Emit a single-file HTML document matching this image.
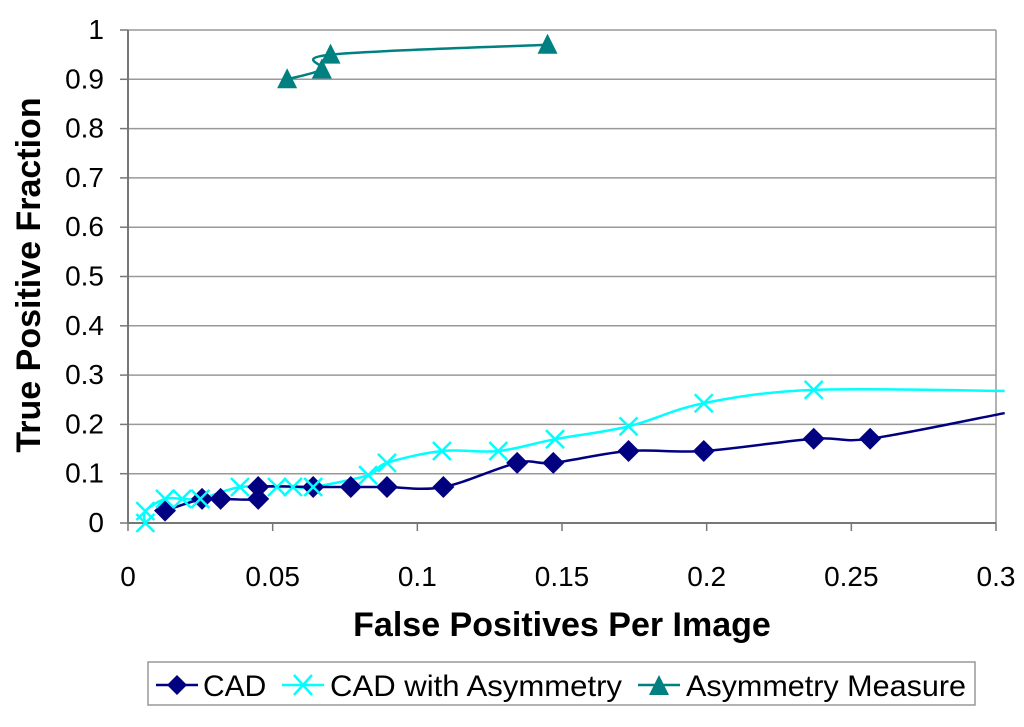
<!DOCTYPE html>
<html><head><meta charset="utf-8"><style>
body{margin:0;background:#fff;}
svg text{font-family:"Liberation Sans",Arial,sans-serif;}
</style></head><body>
<svg id="chart" width="1024" height="722" viewBox="0 0 1024 722" xmlns="http://www.w3.org/2000/svg">
<g id="grid"></g>
<g id="axes"></g>
<defs><clipPath id="clip"><rect x="120" y="0" width="885" height="540"/></clipPath></defs>
<g id="series" clip-path="url(#clip)"></g>
<text x="40" y="275" transform="rotate(-90 40 275)" text-anchor="middle" font-size="34" font-weight="bold">True Positive Fraction</text>
<text x="562" y="636" text-anchor="middle" font-size="34" font-weight="bold">False Positives Per Image</text>
<g>
<rect x="148" y="662" width="827" height="43" fill="#fff" stroke="#999" stroke-width="1.5"/>
<g>
<line x1="156" y1="685" x2="198" y2="685" stroke="#000080" stroke-width="2.5"/>
<path d="M177 675 L187 685 L177 695 L167 685Z" fill="#000080"/>
<text x="203" y="696" font-size="30">CAD</text></g>
<g>
<line x1="282" y1="685" x2="324" y2="685" stroke="#00FFFF" stroke-width="2.5"/>
<path d="M294 675 L312 695 M312 675 L294 695" stroke="#00FFFF" stroke-width="2.5"/>
<text x="330" y="696" font-size="30" textLength="292" lengthAdjust="spacingAndGlyphs">CAD with Asymmetry</text></g>
<g>
<line x1="638" y1="685" x2="680" y2="685" stroke="#008080" stroke-width="2.5"/>
<path d="M659 675 L669 695 L649 695Z" fill="#008080"/>
<text x="686" y="696" font-size="30" textLength="280" lengthAdjust="spacingAndGlyphs">Asymmetry Measure</text></g>
</g>
</svg>
<script>
const xTicks=[0,0.05,0.1,0.15,0.2,0.25,0.3];
const xTickLabels=["0","0.05","0.1","0.15","0.2","0.25","0.3"];
const yTicks=[0,0.1,0.2,0.3,0.4,0.5,0.6,0.7,0.8,0.9,1];
const yTickLabels=["0","0.1","0.2","0.3","0.4","0.5","0.6","0.7","0.8","0.9","1"];
const cadX=[0.0128,0.0256,0.032,0.045,0.045,0.064,0.077,0.0895,0.109,0.1345,0.147,0.173,0.199,0.237,0.2565,0.303];
const cadY=[0.025,0.049,0.049,0.049,0.073,0.073,0.073,0.073,0.073,0.122,0.122,0.146,0.146,0.171,0.171,0.223];
const asymCadX=[0.006,0.006,0.0128,0.0187,0.025,0.0387,0.0515,0.057,0.064,0.083,0.0895,0.1085,0.128,0.1476,0.173,0.199,0.237,0.303];
const asymCadY=[0,0.024,0.049,0.049,0.049,0.073,0.073,0.073,0.073,0.097,0.122,0.146,0.146,0.17,0.196,0.243,0.27,0.268];
const asymX=[0.055,0.067,0.07,0.145];
const asymY=[0.90,0.92,0.95,0.97];
const X0=128,X1=996,Y0=523,Y1=30;
function sx(v){return X0+(X1-X0)*v/0.3;}
function sy(v){return Y0-(Y0-Y1)*v;}
const NS="http://www.w3.org/2000/svg";
function mk(t,a,p){const e=document.createElementNS(NS,t);for(const k in a)e.setAttribute(k,a[k]);p.appendChild(e);return e;}
const grid=document.getElementById('grid'),axes=document.getElementById('axes'),ser=document.getElementById('series');
yTicks.forEach((v,i)=>{
 if(i>0){const l=mk('line',{x1:X0,x2:X1,y1:sy(v),y2:sy(v),stroke:'#999','stroke-width':1.5},grid);
 
 }
 const t=mk('text',{x:104,y:sy(v)+9,'text-anchor':'end','font-size':28},axes);t.textContent=yTickLabels[i];
 
 
 mk('line',{x1:X0-8,x2:X0,y1:sy(v),y2:sy(v),stroke:'#777','stroke-width':1.5},axes);
});
xTicks.forEach((v,i)=>{
 const t=mk('text',{x:sx(v),y:586,'text-anchor':'middle','font-size':28},axes);t.textContent=xTickLabels[i];
 
 
 mk('line',{x1:sx(v),x2:sx(v),y1:Y0,y2:Y0+8,stroke:'#777','stroke-width':1.5},axes);
});
mk('line',{x1:X1,x2:X1,y1:Y1,y2:Y0,stroke:'#999','stroke-width':1.5},axes);
mk('line',{x1:X0,x2:X0,y1:Y1,y2:Y0,stroke:'#777','stroke-width':2},axes);
mk('line',{x1:X0,x2:X1,y1:Y0,y2:Y0,stroke:'#777','stroke-width':2},axes);
function smooth(xs,ys){
 const p=xs.map((x,i)=>[sx(x),sy(ys[i])]);let d='M'+p[0][0]+' '+p[0][1];
 for(let i=0;i<p.length-1;i++){const a=p[i-1]||p[i],b=p[i],c=p[i+1],e=p[i+2]||c;
 d+=` C${b[0]+(c[0]-a[0])/6} ${b[1]+(c[1]-a[1])/6} ${c[0]-(e[0]-b[0])/6} ${c[1]-(e[1]-b[1])/6} ${c[0]} ${c[1]}`;}
 return d;}
const l1=mk('path',{d:smooth(asymCadX,asymCadY),fill:'none',stroke:'#00FFFF','stroke-width':2.5},ser);


const l2=mk('path',{d:smooth(cadX,cadY),fill:'none',stroke:'#000080','stroke-width':2.5},ser);


const l3=mk('path',{d:smooth(asymX,asymY),fill:'none',stroke:'#008080','stroke-width':2.5},ser);


cadX.forEach((x,i)=>{if(x>0.3)return;const X=sx(x),Y=sy(cadY[i]);
 const m=mk('path',{d:`M${X} ${Y-11}L${X+11} ${Y}L${X} ${Y+11}L${X-11} ${Y}Z`,fill:'#000080'},ser);
 
 });
asymCadX.forEach((x,i)=>{if(x>0.3)return;const X=sx(x),Y=sy(asymCadY[i]);
 const m=mk('path',{d:`M${X-9} ${Y-9}L${X+9} ${Y+9}M${X+9} ${Y-9}L${X-9} ${Y+9}`,stroke:'#00FFFF','stroke-width':2.5},ser);
 
 });
asymX.forEach((x,i)=>{const X=sx(x),Y=sy(asymY[i]);
 const m=mk('path',{d:`M${X} ${Y-11}L${X+10} ${Y+9}L${X-10} ${Y+9}Z`,fill:'#008080'},ser);
 
 });
</script>
</body></html>
